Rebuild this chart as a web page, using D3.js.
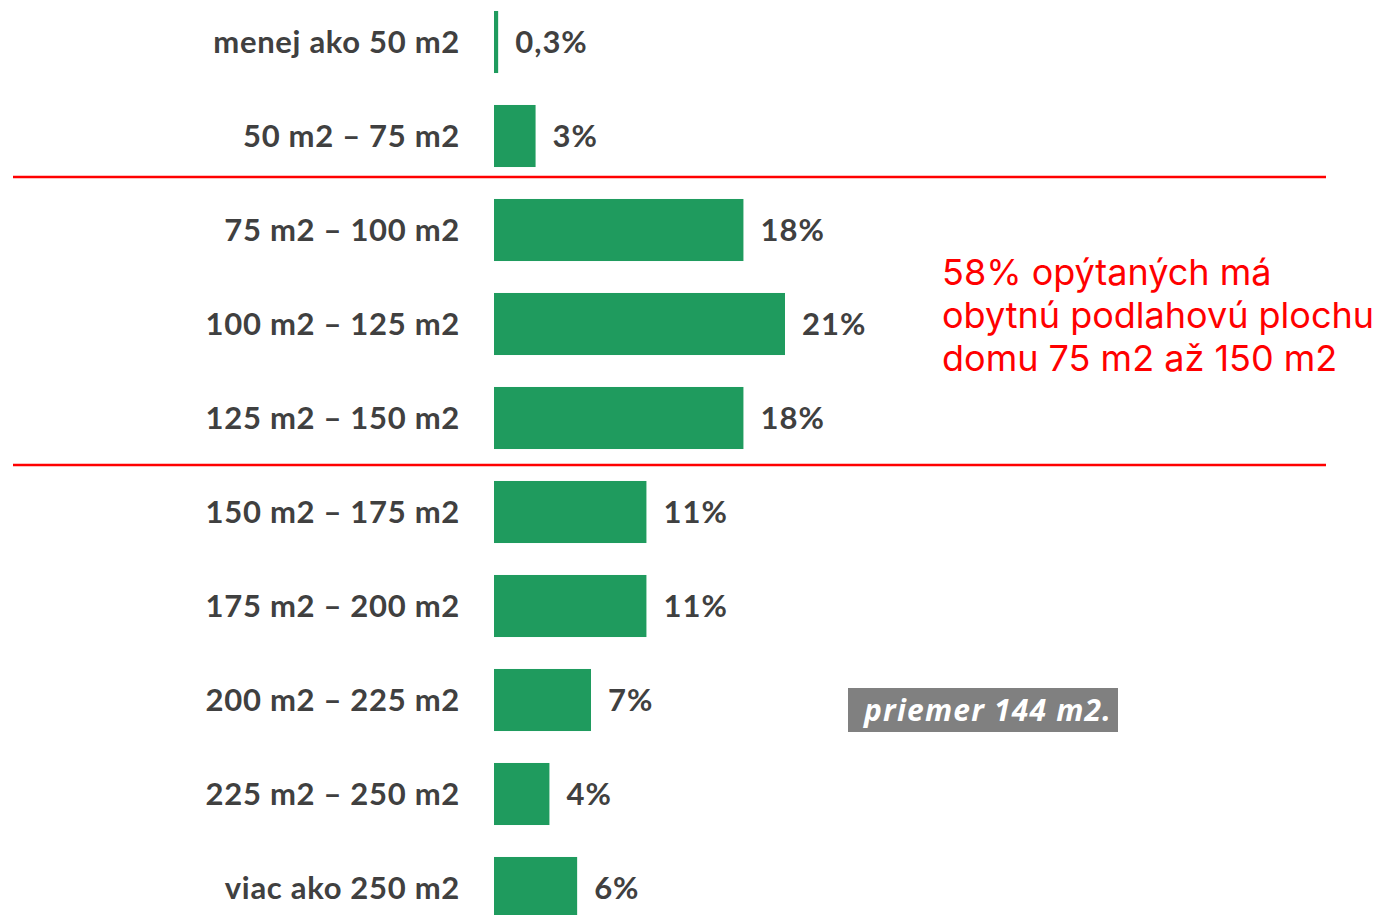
<!DOCTYPE html>
<html>
<head>
<meta charset="utf-8">
<script src="https://cdn.jsdelivr.net/npm/d3@7"></script>
<style>
  body { margin: 0; background: #fff; }
  svg { display: block; }
</style>
</head>
<body>
<svg id="chart" width="1380" height="915"></svg>
<script>
const categories = ["menej ako 50 m2", "50 m2 – 75 m2", "75 m2 – 100 m2", "100 m2 – 125 m2",
  "125 m2 – 150 m2", "150 m2 – 175 m2", "175 m2 – 200 m2", "200 m2 – 225 m2",
  "225 m2 – 250 m2", "viac ako 250 m2"];
const values = [0.3, 3, 18, 21, 18, 11, 11, 7, 4, 6];
const valueLabels = ["0,3%", "3%", "18%", "21%", "18%", "11%", "11%", "7%", "4%", "6%"];
const noteLines = ["58% opýtaných má", "obytnú podlahovú plochu", "domu 75 m2 až 150 m2"];
const averageText = "priemer 144 m2.";
// red separators: [category above, category below, share of the gap]
const separators = [[1, 2, 0.31], [4, 5, 0.5]];

const svg = d3.select("#chart");
const labelColor = "#404040";
const barColor = "#1f9b5e";

const y = d3.scaleBand()
  .domain(categories)
  .range([-5, 935])
  .paddingInner(0.34)
  .paddingOuter(0.17);

const x = d3.scaleLinear()
  .domain([0, 21])
  .range([494, 785]);

// separator lines
separators.forEach(function (s) {
  let yA = y(categories[s[0]]) + y.bandwidth();
  let yB = y(categories[s[1]]);
  let ly = Math.round(yA + (yB - yA) * s[2]);
  svg.append("line")
    .attr("x1", 13).attr("x2", 1326)
    .attr("y1", ly).attr("y2", ly)
    .attr("stroke", "#ff0000")
    .attr("stroke-width", 2.5);
});

// bars
svg.selectAll("rect.bar")
  .data(values)
  .enter()
  .append("rect")
  .attr("class", "bar")
  .attr("x", x(0))
  .attr("y", (d, i) => y(categories[i]))
  .attr("width", d => Math.max(3, x(d) - x(0)))
  .attr("height", y.bandwidth())
  .attr("fill", barColor);

// category labels
svg.selectAll("text.cat")
  .data(categories)
  .enter()
  .append("text")
  .attr("class", "cat")
  .attr("x", 460)
  .attr("y", d => y(d) + y.bandwidth() / 2)
  .attr("dy", "0.35em")
  .attr("text-anchor", "end")
  .style("font-family", "Lato, 'Open Sans', sans-serif")
  .style("font-weight", "bold")
  .style("font-size", "31px")
  .style("letter-spacing", "0.7px")
  .style("fill", labelColor)
  .text(d => d);

// value labels
svg.selectAll("text.val")
  .data(values)
  .enter()
  .append("text")
  .attr("class", "val")
  .attr("x", d => Math.max(x(d), x(0) + 3) + 17)
  .attr("y", (d, i) => y(categories[i]) + y.bandwidth() / 2)
  .attr("dy", "0.35em")
  .style("font-family", "Lato, 'Open Sans', sans-serif")
  .style("font-weight", "bold")
  .style("font-size", "31px")
  .style("letter-spacing", "1px")
  .style("fill", labelColor)
  .text((d, i) => valueLabels[i]);

// red annotation
svg.append("text")
  .attr("x", 942)
  .attr("y", 285)
  .style("font-family", "Inter, 'Noto Sans', sans-serif")
  .style("font-size", "36px")
  .style("fill", "#ff0000")
  .selectAll("tspan")
  .data(noteLines)
  .enter()
  .append("tspan")
  .attr("x", 942)
  .attr("dy", (d, i) => i === 0 ? 0 : 43)
  .text(d => d);

// average box
svg.append("rect")
  .attr("x", 848).attr("y", 688)
  .attr("width", 270).attr("height", 44)
  .attr("fill", "#808080");

svg.append("text")
  .attr("x", 864)
  .attr("y", 710)
  .attr("dy", "0.35em")
  .style("font-family", "'Open Sans', Lato, sans-serif")
  .style("font-weight", "bold")
  .style("font-style", "italic")
  .style("font-size", "30px")
  .style("letter-spacing", "1.2px")
  .style("fill", "#ffffff")
  .text(averageText);
</script>
</body>
</html>
